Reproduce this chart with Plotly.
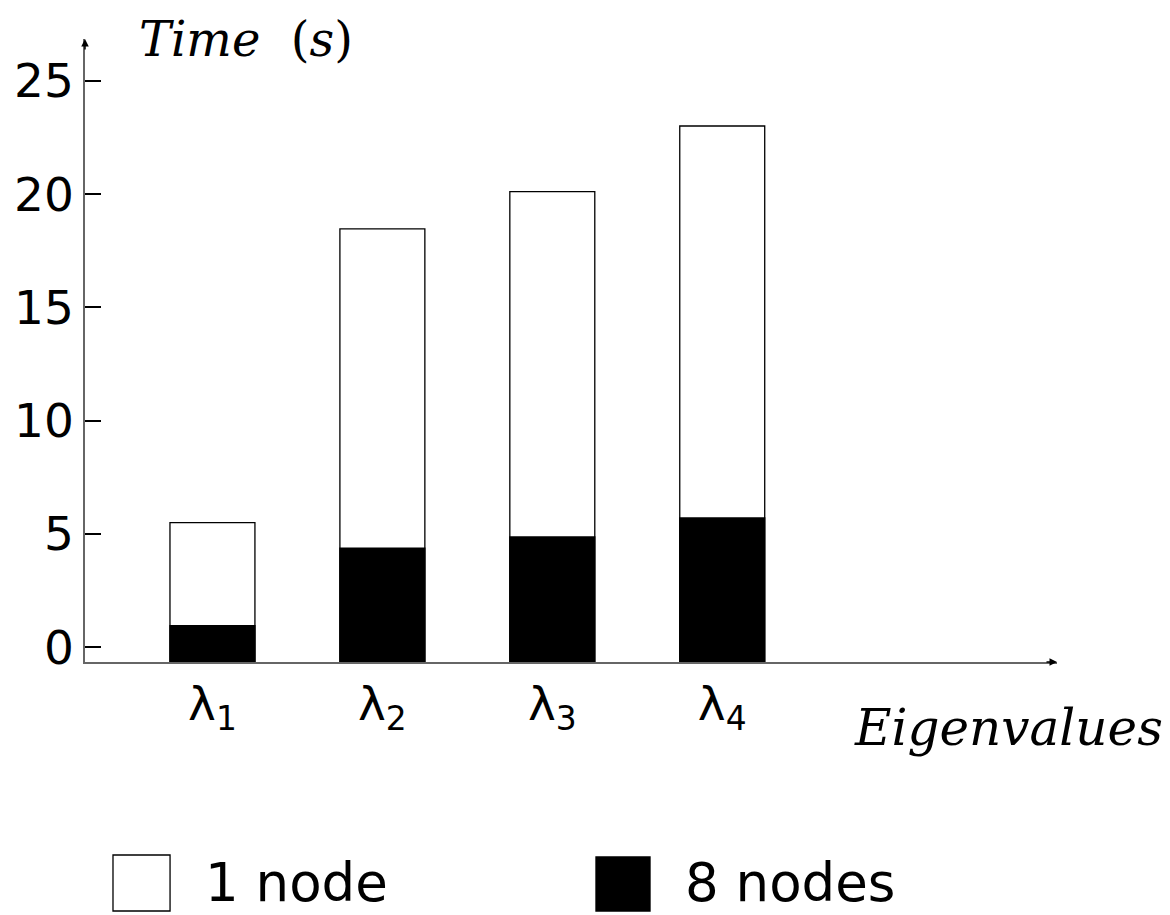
import plotly.graph_objects as go

categories = ["λ<sub>1</sub>", "λ<sub>2</sub>", "λ<sub>3</sub>", "λ<sub>4</sub>"]
one_node = [5.50, 18.47, 20.11, 23.01]
eight_nodes = [0.95, 4.38, 4.87, 5.71]
y_ticks = [0, 5, 10, 15, 20, 25]
axis_floor = -0.65

fig = go.Figure()
fig.add_trace(go.Bar(
    x=categories, y=[v - axis_floor for v in one_node], base=axis_floor,
    name="1 node", marker=dict(color="white", line=dict(color="black", width=1.3)),
    width=0.5,
))
fig.add_trace(go.Bar(
    x=categories, y=[v - axis_floor for v in eight_nodes], base=axis_floor,
    name="8 nodes", marker=dict(color="black", line=dict(color="black", width=1.3)),
    width=0.5,
))

fig.update_layout(
    width=1170, height=915,
    margin=dict(l=85, r=113, t=39, b=253, autoexpand=False),
    plot_bgcolor="white", paper_bgcolor="white",
    barmode="overlay", showlegend=False,
    xaxis=dict(
        range=[-0.75, 4.97], showgrid=False, zeroline=False, automargin=False,
        showline=True, linecolor="#666666", linewidth=1.5,
        ticks="", tickfont=dict(family="DejaVu Sans", size=47, color="black"),
        ticklabelstandoff=0,
    ),
    yaxis=dict(
        range=[axis_floor, 26.85], showgrid=False, zeroline=False, automargin=False,
        showline=True, linecolor="#666666", linewidth=1.5,
        tickvals=y_ticks, ticktext=[str(t) for t in y_ticks],
        ticks="inside", ticklen=16, tickwidth=2, tickcolor="black",
        tickfont=dict(family="DejaVu Sans", size=47, color="black"),
        ticklabelstandoff=0,
    ),
)

# axis arrowheads
fig.add_annotation(xref="x domain", yref="y domain", x=1, y=0, ax=-12, ay=0,
                   showarrow=True, arrowhead=2, arrowsize=1, arrowwidth=1.5,
                   arrowcolor="black", text="")
fig.add_annotation(xref="x domain", yref="y domain", x=0, y=1, ax=0, ay=12,
                   showarrow=True, arrowhead=2, arrowsize=1, arrowwidth=1.5,
                   arrowcolor="black", text="")

# axis titles
fig.add_annotation(xref="paper", yref="paper", x=0.0535, y=1.0, xanchor="left", yanchor="middle",
                   text="<i>Time</i>&nbsp;&nbsp;(<i>s</i>)", showarrow=False,
                   font=dict(family="DejaVu Serif", size=48, color="black"))
fig.add_annotation(xref="paper", yref="paper", x=0.789, y=-0.106, xanchor="left", yanchor="middle",
                   text="<i>Eigenvalues</i>", showarrow=False,
                   font=dict(family="DejaVu Serif", size=50, color="black"))

# legend
fig.add_shape(type="rect", xref="paper", yref="paper", x0=0.0288, x1=0.0875, y0=-0.3997, y1=-0.3098,
              fillcolor="white", line=dict(color="black", width=1.3))
fig.add_shape(type="rect", xref="paper", yref="paper", x0=0.5257, x1=0.5813, y0=-0.3997, y1=-0.313,
              fillcolor="black", line=dict(color="black", width=1.3))
fig.add_annotation(xref="paper", yref="paper", x=0.1214, y=-0.3547, xanchor="left", yanchor="middle",
                   text="1 node", showarrow=False,
                   font=dict(family="DejaVu Sans", size=53, color="black"))
fig.add_annotation(xref="paper", yref="paper", x=0.6152, y=-0.3547, xanchor="left", yanchor="middle",
                   text="8 nodes", showarrow=False,
                   font=dict(family="DejaVu Sans", size=53, color="black"))

fig.write_html("out.html")
